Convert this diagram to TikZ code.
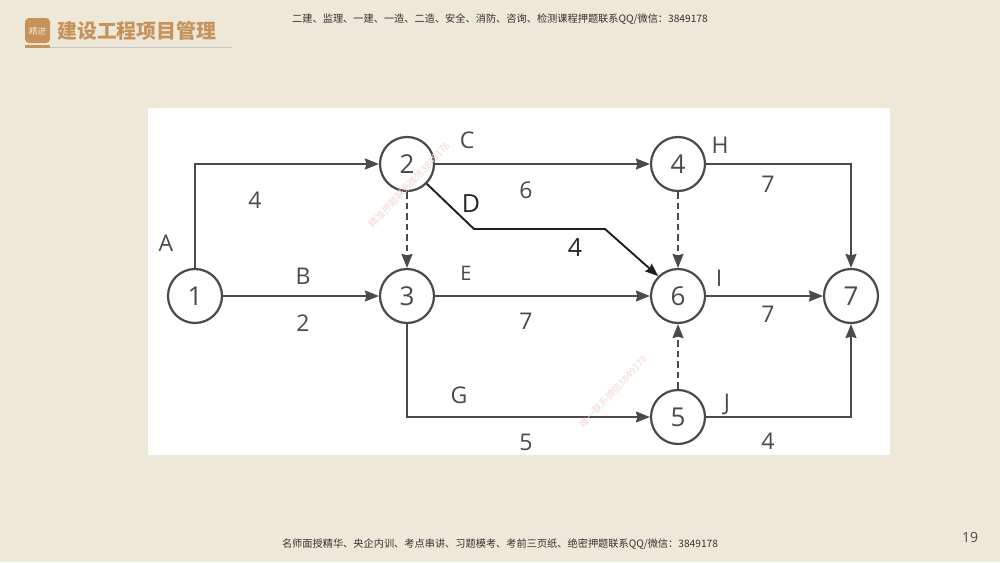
\documentclass[tikz,border=0pt]{standalone}
\usepackage{fontspec}
\setmainfont{Open Sans}
\newfontfamily\cjk{Noto Sans CJK SC}
\usetikzlibrary{arrows.meta}
\definecolor{bgc}{HTML}{EEE8D8}
\definecolor{brn}{HTML}{C6935C}
\definecolor{ink}{HTML}{4A4A4A}
\definecolor{wm}{HTML}{F3D6D2}
\tikzset{
  x=1pt,y=-1pt,
  ev/.style={circle,draw=ink,line width=2.2pt,fill=white,minimum size=54pt,inner sep=0pt,text=ink,font=\fontsize{26}{26}\selectfont},
  activity/.style={draw=ink,line width=1.8pt,-{Stealth[length=14pt,width=11pt,inset=1.5pt]}},
  dum/.style={activity,dash pattern=on 6.5pt off 4pt},
  crit/.style={draw=black!88,line width=1.9pt,-{Stealth[length=13pt,width=10pt,inset=1.5pt]}},
  lab/.style={text=ink,font=\fontsize{23}{23}\selectfont,inner sep=0pt},
  labk/.style={text=black!85,font=\fontsize{25}{25}\selectfont,inner sep=0pt},
  captext/.style={text=black!80,font=\cjk\fontsize{10.2}{11}\selectfont,inner sep=0pt},
  wmk/.style={text=wm,font=\cjk\fontsize{9.5}{10}\selectfont,rotate=47,inner sep=0pt}
}
\begin{document}
\begin{tikzpicture}
\fill[bgc] (0,0) rectangle (1000,562);
\useasboundingbox (0,0) rectangle (1000,562);
% header
\fill[brn,rounded corners=4pt] (25,18) rectangle (50,43);
\node[text=bgc,font=\cjk\fontsize{8.5}{9}\selectfont,inner sep=0pt] (badge) at (37.5,31) {精进};
\node[text=brn,font=\cjk\bfseries\fontsize{19.9}{20}\selectfont,inner sep=0pt,anchor=west] (title) at (57,31) {建设工程项目管理};
\fill[black!22] (25,46.7) rectangle (232,47.7);
\fill[brn] (25,45) rectangle (50,48);
\node[captext] (top) at (500,19.5) {二建、监理、一建、一造、二造、安全、消防、咨询、检测课程押题联系QQ/微信：3849178};
\node[captext] (bot) at (500,544.5) {名师面授精华、央企内训、考点串讲、习题模考、考前三页纸、绝密押题联系QQ/微信：3849178};
\node[text=black!70,font=\fontsize{14}{14}\selectfont,inner sep=0pt] (pg) at (970,537) {19};
% panel
\fill[white] (148,108) rectangle (890,455);
% events
\node[ev] (n1) at (195,296) {1};
\node[ev] (n2) at (407,164) {2};
\node[ev] (n3) at (407,296) {3};
\node[ev] (n4) at (678,164) {4};
\node[ev] (n5) at (678,417) {5};
\node[ev] (n6) at (678,296) {6};
\node[ev] (n7) at (851,296) {7};
% arrows
\draw[activity] (n1.north) |- (n2.west);
\draw[activity] (n1) -- (n3);
\draw[activity] (n2) -- (n4);
\draw[dum] (n2) -- (n3);
\coordinate (d1) at (474,229);
\coordinate (d2) at (605,229);
\draw[crit] (n2.-45) -- (d1) -- (d2) -- (n6.135);
\draw[activity] (n3) -- (n6);
\draw[activity] (n3.south) |- (n5.west);
\draw[dum] (n4) -- (n6);
\draw[activity] (n4.east) -| (n7.north);
\draw[activity] (n6) -- (n7);
\draw[dum] (n5) -- (n6);
\draw[activity] (n5.east) -| (n7.south);
% labels
\node[lab] (lA) at (166,243) {A};
\node[lab] (l4a) at (255,200) {4};
\node[lab] (lB) at (303,276) {B};
\node[lab] (l2) at (303,323) {2};
\node[lab] (lC) at (467,140) {C};
\node[lab] (l6) at (526,190) {6};
\node[labk] (lD) at (471,204) {D};
\node[labk] (l4d) at (575,248) {4};
\node[lab,font=\fontsize{20}{20}\selectfont] (lE) at (466,273) {E};
\node[lab] (l7e) at (526,321) {7};
\node[lab] (lG) at (459,395) {G};
\node[lab] (l5) at (526,442) {5};
\node[lab] (lH) at (720,145) {H};
\node[lab] (l7h) at (768,184) {7};
\node[lab] (lI) at (719,278) {I};
\node[lab] (l7i) at (768,314) {7};
\node[lab] (lJ) at (727,404) {J};
\node[lab] (l4j) at (768,441) {4};
% watermarks
\node[wmk] (w1) at (409,185) {精准押题联系微信3849178};
\node[wmk] (w2) at (613,392) {唯一联系微信3849178};
\end{tikzpicture}
\end{document}
